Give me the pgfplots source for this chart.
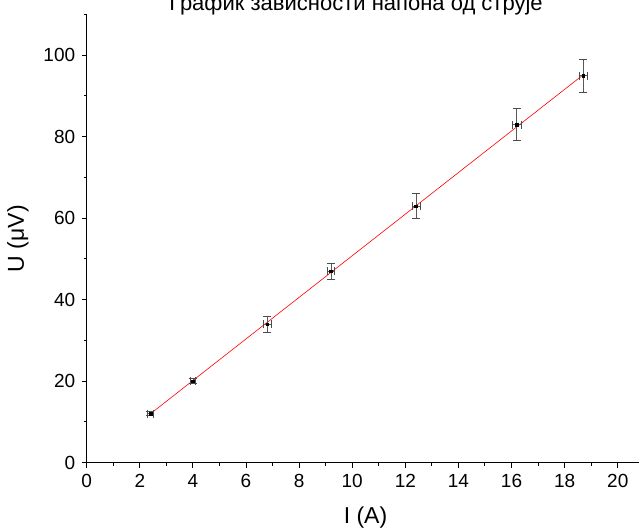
\documentclass[border=0pt]{standalone}
\usepackage{fontspec}
\setmainfont{Liberation Sans}
\usepackage{pgfplots}
\pgfplotsset{compat=1.18}

\begin{document}
\begin{tikzpicture}
\begin{axis}[
    at={(0,0)}, anchor=south west,
    scale only axis,
    width=557.6pt, height=448.2pt,
    xmin=0, xmax=21, ymin=0, ymax=110,
    axis lines*=left,
    axis line style={black, line width=1pt},
    tick align=outside,
    xtick distance=2, ytick distance=20,
    minor x tick num=1, minor y tick num=1,
    major tick length=5pt, minor tick length=3pt,
    tick style={black, line width=1pt},
    /pgf/number format/assume math mode=true,
    tick label style={font=\fontsize{19}{19}\selectfont},
    xticklabel style={yshift=-3pt},
    yticklabel style={xshift=-3pt},
    xlabel={I (A)}, ylabel={U (μV)},
    label style={font=\fontsize{23}{23}\selectfont},
    xlabel style={yshift=-12pt},
    ylabel style={yshift=8pt},
    clip=false,
]
\addplot[red, line width=0.6pt] coordinates {(2.4,12.0) (18.7,95.2)};

\addplot[only marks, mark=square*, mark size=1.3pt, black,
    error bars/.cd,
        x dir=both, x explicit, y dir=both, y explicit,
        error bar style={black!65, line width=0.8pt},
        error mark options={rotate=90, mark size=4pt, black!70, line width=0.8pt}]
    table[x=x, y=y, x error=ex, y error=ey] {
x    y   ex    ey
2.4  12  0.12  0.5
4.0  20  0.10  0.6
6.8  34  0.15  2
9.2  47  0.12  2
12.4 63  0.15  3
16.2 83  0.18  4
18.7 95  0.15  4
};
\end{axis}
\node[anchor=base, font=\fontsize{22}{22}\selectfont] at (269.3pt,451.7pt)
    {График зависности напона од струје};
\pgfresetboundingbox
\useasboundingbox (-86.7pt,-69.3pt) rectangle (552.3pt,462.7pt);
\end{tikzpicture}
\end{document}
